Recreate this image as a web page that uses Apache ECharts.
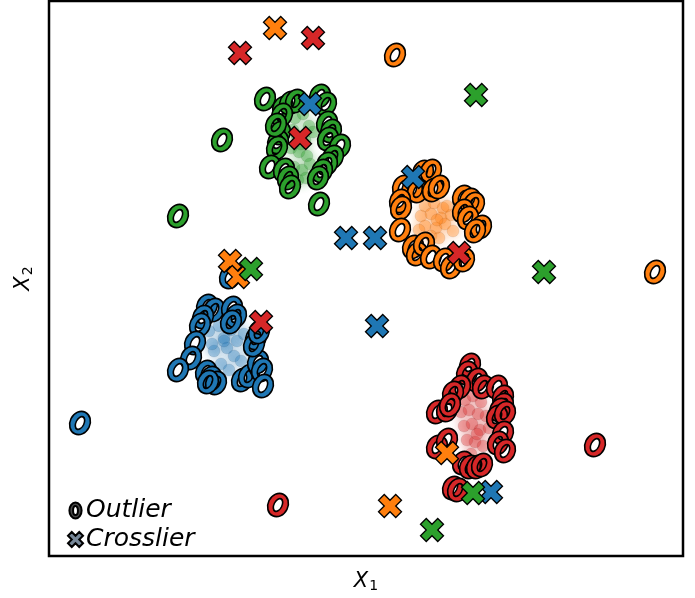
<!DOCTYPE html>
<html>
<head>
<meta charset="utf-8">
<script src="https://cdn.jsdelivr.net/npm/echarts@6/dist/echarts.min.js"></script>
<style>
  html, body { margin: 0; padding: 0; background: #fff; }
  #chart { width: 695px; height: 598px; }
</style>
</head>
<body>
<div id="chart"></div>
<script>
// ---- class colours ----
const classNames = ['blue', 'orange', 'green', 'red'];
const classColors = ['#1f77b4', '#ff7f0e', '#2ca02c', '#d62728'];

// ---- dense core of each class (X1, X2) ----
const coreBlueX   = [16.0, 17.0, 17.5, 18.2, 18.8, 19.5, 16.5, 17.8, 18.5, 19.2, 17.2, 16.3, 18.0, 20.0, 17.5, 18.8];
const coreBlueY   = [22.5, 23.0, 21.8, 22.6, 21.5, 22.2, 20.5, 20.8, 20.0, 19.5, 19.2, 21.2, 18.6, 20.8, 21.5, 23.4];
const coreOrangeX = [37.6, 38.5, 39.4, 37.2, 38.2, 39.2, 40.2, 37.6, 38.7, 39.6, 38.2, 39.0, 40.4, 37.0, 38.8, 39.8];
const coreOrangeY = [35.0, 35.3, 34.8, 34.0, 34.2, 33.8, 34.1, 33.0, 32.8, 33.2, 32.0, 31.8, 32.5, 32.6, 33.6, 35.0];
const coreGreenX  = [24.6, 25.4, 26.0, 24.8, 25.6, 26.4, 24.2, 25.0, 25.8, 24.5, 25.3, 26.1, 24.9, 25.7, 25.2, 24.4];
const coreGreenY  = [43.8, 44.2, 43.0, 42.0, 41.6, 42.4, 40.8, 40.4, 40.0, 38.9, 38.6, 39.2, 37.6, 37.8, 41.2, 42.6];
const coreRedX    = [41.6, 42.4, 43.2, 41.2, 42.0, 42.9, 43.7, 41.5, 42.3, 43.1, 44.0, 41.8, 42.6, 43.4, 42.2, 42.8];
const coreRedY    = [15.6, 16.0, 15.4, 14.4, 14.6, 14.2, 14.0, 13.0, 13.2, 12.6, 12.8, 11.6, 11.4, 11.0, 10.2, 12.2];

// ---- outliers (ring markers) ----
const outBlueX = [15.8, 16.5, 15.4, 15.1, 18.3, 18.7, 18.2, 14.6, 14.2, 12.9, 15.7, 16.2, 16.7, 15.9, 19.3, 20.0, 20.9, 21.3, 21.4, 20.7, 20.5, 21.0, 3.1, 18.1];
const outBlueY = [25.0, 24.6, 23.9, 23.1, 24.8, 24.0, 23.4, 21.3, 19.8, 18.6, 18.4, 17.8, 17.3, 17.4, 17.6, 18.0, 19.4, 18.6, 17.0, 21.8, 21.1, 22.4, 13.3, 27.9];

const outOrangeX = [37.4, 38.2, 35.4, 36.3, 36.9, 38.4, 39.0, 35.1, 35.2, 41.4, 42.1, 42.5, 41.4, 41.9, 43.2, 42.6, 35.1, 36.4, 36.8, 37.5, 38.2, 39.5, 40.2, 41.5, 34.6, 60.6];
const outOrangeY = [38.4, 38.5, 36.9, 36.6, 36.5, 36.6, 36.9, 35.5, 34.8, 35.9, 35.6, 35.2, 34.5, 33.8, 32.9, 32.5, 32.6, 30.9, 30.2, 31.2, 29.9, 29.6, 28.9, 29.6, 50.1, 28.4];

const outGreenX = [21.6, 23.4, 24.1, 24.7, 23.3, 27.1, 27.7, 23.1, 22.9, 22.8, 27.8, 28.2, 27.9, 29.1, 28.4, 27.8, 27.3, 26.9, 22.1, 23.5, 23.9, 24.1, 27.0, 22.7, 17.3, 12.9];
const outGreenY = [45.7, 44.8, 45.3, 45.5, 44.1, 46.0, 45.2, 42.3, 41.4, 40.8, 43.3, 42.5, 41.7, 41.0, 39.9, 39.2, 38.5, 37.8, 38.9, 38.6, 37.8, 36.9, 35.2, 43.1, 41.6, 34.0];

const outRedX = [42.1, 41.8, 42.8, 41.1, 40.4, 38.8, 39.8, 40.1, 43.4, 44.8, 45.4, 45.4, 45.1, 44.8, 45.6, 45.4, 44.9, 45.6, 38.8, 39.8, 41.4, 42.1, 42.8, 43.3, 40.4, 40.9, 54.6, 22.9];
const outRedY = [19.1, 18.3, 17.6, 16.9, 16.3, 14.4, 14.6, 15.1, 16.9, 16.9, 15.9, 15.1, 14.6, 13.9, 14.3, 12.3, 11.3, 10.5, 10.9, 11.6, 9.3, 8.9, 8.9, 9.1, 6.8, 6.6, 11.1, 5.1];

// ---- crossliers (X markers) ----
const crossBlueX   = [26.1, 36.4, 29.7, 32.6, 32.8, 44.2];
const crossBlueY   = [45.2, 37.9, 31.8, 31.8, 23.0, 6.4];
const crossOrangeX = [22.6, 18.1, 18.9, 39.8, 34.1];
const crossOrangeY = [52.8, 29.5, 27.9, 10.3, 5.0];
const crossGreenX  = [42.7, 20.2, 49.5, 42.4, 38.3];
const crossGreenY  = [46.1, 28.7, 28.4, 6.3, 2.6];
const crossRedX    = [19.1, 26.4, 25.1, 21.2, 41.0];
const crossRedY    = [50.3, 51.8, 41.8, 23.4, 30.3];

// ---- axis extents ----
const xMin = 0, xMax = 63.4;
const yMin = 0, yMax = 55.5;

// ---- marker shapes ----
// ring built from cubic ellipse segments; the inner loop runs the other
// way so it is cut out as a hole. Slanted with symbolRotate like an italic "o".
const RING = 'path://' +
  'M0,-10.5C4.418,-10.5 8,-5.799 8,0C8,5.799 4.418,10.5 0,10.5' +
  'C-4.418,10.5 -8,5.799 -8,0C-8,-5.799 -4.418,-10.5 0,-10.5Z' +
  'M0,-6C-1.767,-6 -3.2,-3.314 -3.2,0C-3.2,3.314 -1.767,6 0,6' +
  'C1.767,6 3.2,3.314 3.2,0C3.2,-3.314 1.767,-6 0,-6Z';
const RING_TILT = -26;
// filled "X"
const CROSS = 'path://M2,-4L4,-2L2,0L4,2L2,4L0,2L-2,4L-4,2L-2,0L-4,-2L-2,-4L0,-2Z';

const zip = (xs, ys) => xs.map((x, i) => [x, ys[i]]);

const cores = [[coreBlueX, coreBlueY], [coreOrangeX, coreOrangeY], [coreGreenX, coreGreenY], [coreRedX, coreRedY]];
const outs = [[outBlueX, outBlueY], [outOrangeX, outOrangeY], [outGreenX, outGreenY], [outRedX, outRedY]];
const crosses = [[crossBlueX, crossBlueY], [crossOrangeX, crossOrangeY], [crossGreenX, crossGreenY], [crossRedX, crossRedY]];

const series = [];
cores.forEach((c, i) => {
  series.push({
    type: 'scatter', name: classNames[i] + '-core', silent: true,
    data: zip(c[0], c[1]),
    symbol: 'circle', symbolSize: 12,
    itemStyle: { color: classColors[i], opacity: 0.32, borderColor: 'rgba(0,0,0,0.45)', borderWidth: 0.5, shadowBlur: 10, shadowColor: classColors[i] }
  });
});
outs.forEach((c, i) => {
  series.push({
    type: 'scatter', name: classNames[i] + '-outlier', silent: true,
    data: zip(c[0], c[1]),
    symbol: RING, symbolSize: [20, 24], symbolRotate: RING_TILT,
    itemStyle: { color: classColors[i], opacity: 1, borderColor: '#000', borderWidth: 1.7 }
  });
});
crosses.forEach((c, i) => {
  series.push({
    type: 'scatter', name: classNames[i] + '-crosslier', silent: true,
    data: zip(c[0], c[1]),
    symbol: CROSS, symbolSize: 23,
    itemStyle: { color: classColors[i], opacity: 1, borderColor: '#000', borderWidth: 1.3 }
  });
});
// legend entries
series.push({ type: 'scatter', name: 'Outlier', data: [], symbol: RING, symbolRotate: RING_TILT,
  itemStyle: { color: '#4a4a4a', opacity: 1, borderColor: '#000', borderWidth: 1.4 } });
series.push({ type: 'scatter', name: 'Crosslier', data: [], symbol: CROSS,
  itemStyle: { color: '#778899', opacity: 1, borderColor: '#000', borderWidth: 1 } });

const axisNameRich = {
  i: { fontFamily: 'DejaVu Sans', fontStyle: 'italic', fontSize: 21, color: '#000' },
  s: { fontFamily: 'DejaVu Sans', fontSize: 14, color: '#000', verticalAlign: 'bottom', padding: [9, 0, 0, 1] }
};

const chart = echarts.init(document.getElementById('chart'), null, { renderer: 'canvas' });
chart.setOption({
  animation: false,
  backgroundColor: '#fff',
  grid: {
    left: 49, right: 12, top: 1, bottom: 42,
    containLabel: false, outerBoundsMode: 'none',
    show: true, borderColor: '#000', borderWidth: 2.5, backgroundColor: 'transparent'
  },
  xAxis: {
    type: 'value', min: xMin, max: xMax,
    axisLine: { show: false }, axisTick: { show: false }, axisLabel: { show: false }, splitLine: { show: false },
    name: '{i|X}{s|1}', nameLocation: 'middle', nameGap: 14,
    nameTextStyle: { rich: axisNameRich }
  },
  yAxis: {
    type: 'value', min: yMin, max: yMax,
    axisLine: { show: false }, axisTick: { show: false }, axisLabel: { show: false }, splitLine: { show: false },
    name: '{i|X}{s|2}', nameLocation: 'middle', nameGap: 14, nameRotate: 90,
    nameTextStyle: { rich: axisNameRich }
  },
  legend: {
    data: ['Outlier', 'Crosslier'],
    orient: 'vertical', left: 62, top: 493, itemGap: 4,
    itemWidth: 15, itemHeight: 16,
    textStyle: { fontFamily: 'DejaVu Sans', fontStyle: 'italic', fontSize: 25, color: '#000', padding: [0, 0, 0, -2] },
    selectedMode: false
  },
  series: series
});
</script>
</body>
</html>
